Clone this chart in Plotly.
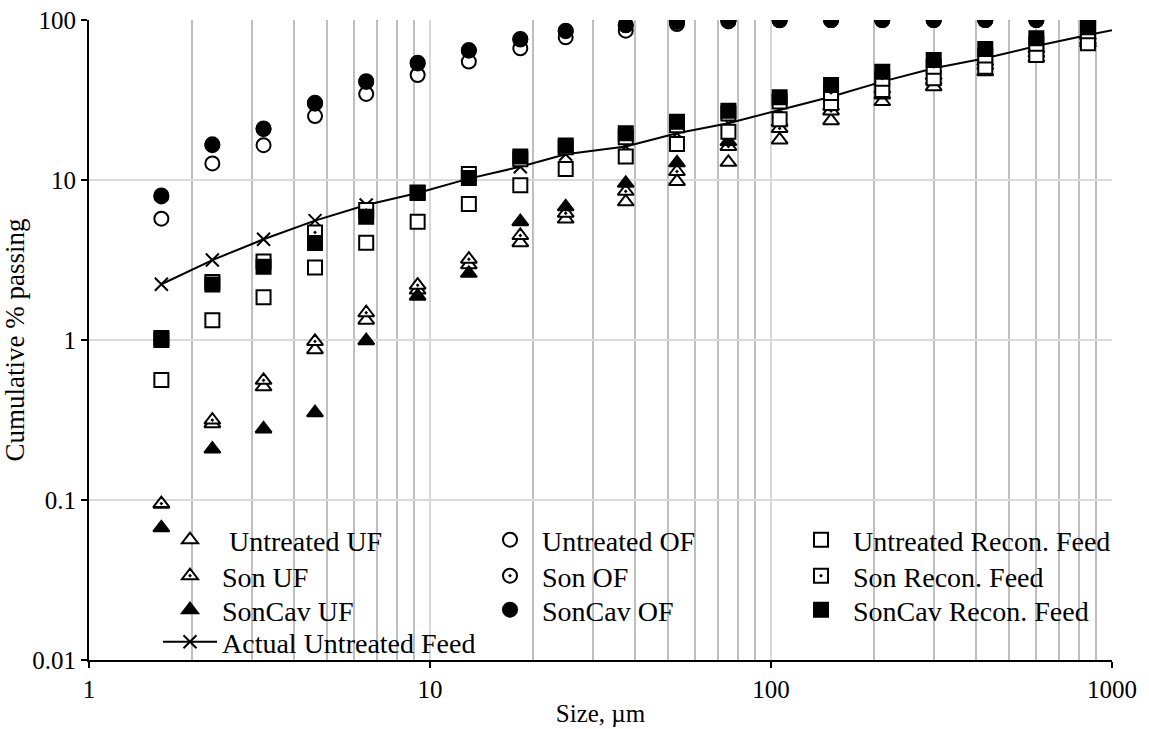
import plotly.graph_objects as go

# Particle size (µm) for each measured size class
sizes = [1.63, 2.3, 3.25, 4.6, 6.5, 9.2, 13, 18.4, 25, 37.5, 53, 75,
         106, 150, 212, 300, 425, 600, 850]

# Cumulative % passing – underflow (UF)
untreated_uf = [0.094, 0.30, 0.51, 0.87, 1.33, 2.05, 2.95, 4.06, 5.7, 7.3, 9.8, 12.9,
                17.8, 23.5, 30.9, 38.3, 47.5, 58.0, 72.0]
son_uf = [0.095, 0.316, 0.56, 0.98, 1.48, 2.2, 3.2, 4.5, 6.2, 8.5, 11.3, 16.2,
          21.0, 27.0, 34.0, 42.0, 52.0, 62.0, 75.0]
soncav_uf = [0.067, 0.208, 0.278, 0.351, 0.99, 1.88, 2.61, 5.49, 6.8, 9.53, 12.8, 17.4,
             23.0, 29.0, 37.0, 45.0, 55.0, 66.0, 80.0]

# Cumulative % passing – overflow (OF)
untreated_of = [5.73, 12.7, 16.5, 25.1, 34.5, 45.3, 55.0, 66.6, 77.9, 85.8, 94.4, 98.0,
                99.5, 100, 100, 100, 100, 100, 100]
son_of = [7.9, 16.5, 20.8, 30.0, 41.0, 53.5, 64.3, 75.5, 85.2, 92.7, 97.4, 99.0,
          100, 100, 100, 100, 100, 100, 100]
soncav_of = [8.0, 16.7, 21.0, 30.4, 41.4, 54.1, 64.9, 76.1, 85.8, 93.1, 97.6, 99.0,
             100, 100, 100, 100, 100, 100, 100]

# Cumulative % passing – reconstituted feed
untreated_recon = [0.562, 1.33, 1.85, 2.84, 4.06, 5.49, 7.08, 9.27, 11.7, 14.0, 16.8, 20.0,
                   24.0, 30.3, 36.5, 43.2, 51.1, 60.4, 71.5]
son_recon = [1.0, 2.3, 3.1, 4.7, 6.5, 8.3, 10.9, 13.5, 16.0, 18.5, 22.0, 26.0,
             31.0, 35.0, 43.0, 51.0, 60.0, 71.0, 85.0]
soncav_recon = [1.03, 2.22, 2.87, 4.04, 5.9, 8.34, 10.3, 14.0, 16.4, 19.6, 23.1, 27.1,
                32.9, 39.2, 47.5, 56.2, 65.9, 76.8, 90.0]

# Measured untreated feed (extends past the top size class)
feed_sizes = sizes + [1200]
actual_feed = [2.23, 3.16, 4.26, 5.57, 6.98, 8.3, 10.2, 12.1, 14.5, 16.2, 19.6, 22.6,
               27.4, 33.1, 41.2, 49.9, 57.6, 68.8, 80.6, 93.0]

FONT = "Liberation Serif, Times New Roman, serif"
BLACK = "black"
MS = 14

# Plot-area box in pixels, used to place the legend entries
W, H = 1149, 729
ML, MR, MT, MB = 89, 37, 20, 69
PW, PH = W - ML - MR, H - MT - MB
ITEMW = 54
COL_X = [190, 510, 821]          # legend symbol centres
ROW_Y = [540, 576, 610, 642]     # legend row centres

fig = go.Figure()
legends = {}


def legend_slot(col, row):
    key = "legend" if not legends else f"legend{len(legends) + 1}"
    legends[key] = dict(
        x=(COL_X[col] - ITEMW / 2 - 5 - ML) / PW,
        y=(H - MB - ROW_Y[row]) / PH,
        xanchor="left", yanchor="middle", itemwidth=ITEMW,
        font=dict(family=FONT, size=28, color=BLACK), bgcolor="rgba(0,0,0,0)",
        borderwidth=0, itemclick=False, itemdoubleclick=False)
    return key


# feed line goes underneath the markers
fig.add_trace(go.Scatter(
    x=feed_sizes, y=actual_feed, name="Actual Untreated Feed", mode="lines+markers",
    line=dict(color=BLACK, width=2),
    marker=dict(symbol="x-thin", size=13, line=dict(color=BLACK, width=2)),
    legend=legend_slot(0, 3)))


def add_points(x, y, name, symbol, fill, col, row):
    fig.add_trace(go.Scatter(
        x=x, y=y, name=name, mode="markers",
        marker=dict(symbol=symbol, size=MS, color=fill, line=dict(color=BLACK, width=2)),
        legend=legend_slot(col, row)))


add_points(sizes, untreated_uf, "\u00a0Untreated UF", "triangle-up", "white", 0, 0)
add_points(sizes, son_uf, "Son UF", "triangle-up-dot", "white", 0, 1)
add_points(sizes, soncav_uf, "SonCav UF", "triangle-up", BLACK, 0, 2)

add_points(sizes, untreated_of, "Untreated OF", "circle", "white", 1, 0)
add_points(sizes, son_of, "Son OF", "circle-dot", "white", 1, 1)
add_points(sizes, soncav_of, "SonCav OF", "circle", BLACK, 1, 2)

add_points(sizes, untreated_recon, "Untreated Recon. Feed", "square", "white", 2, 0)
add_points(sizes, son_recon, "Son Recon. Feed", "square-dot", "white", 2, 1)
add_points(sizes, soncav_recon, "SonCav Recon. Feed", "square", BLACK, 2, 2)

fig.update_layout(
    width=W, height=H,
    margin=dict(l=ML, r=MR, t=MT, b=MB, autoexpand=False),
    paper_bgcolor="white", plot_bgcolor="white",
    font=dict(family=FONT, size=25, color=BLACK),
    showlegend=True,
    xaxis=dict(
        type="log", range=[0, 3], automargin=False,
        title=dict(text="Size, µm", font=dict(family=FONT, size=25), standoff=2),
        tickvals=[1, 10, 100, 1000], ticktext=["1", "10", "100", "1000"],
        ticks="outside", ticklen=6, tickwidth=1.5, tickcolor=BLACK,
        showline=True, linecolor=BLACK, linewidth=2,
        showgrid=True, gridcolor="#d9d9d9", gridwidth=1.5,
        minor=dict(tickvals=[2, 3, 4, 5, 6, 7, 8, 9, 20, 30, 40, 50, 60, 70, 80, 90,
                             200, 300, 400, 500, 600, 700, 800, 900],
                   showgrid=True, gridcolor="#bfbfbf", gridwidth=1.5, ticks=""),
        zeroline=False, tickfont=dict(family=FONT, size=25),
    ),
    yaxis=dict(
        type="log", range=[-2, 2], automargin=False,
        title=dict(text="Cumulative % passing", font=dict(family=FONT, size=27), standoff=6),
        tickvals=[0.01, 0.1, 1, 10, 100], ticktext=["0.01", "0.1", "1", "10", "100"],
        ticks="outside", ticklen=6, tickwidth=1.5, tickcolor=BLACK,
        showline=True, linecolor=BLACK, linewidth=2,
        showgrid=True, gridcolor="#d9d9d9", gridwidth=1.5,
        zeroline=False, tickfont=dict(family=FONT, size=25),
    ),
    **legends,
)

fig.write_html("out.html")
